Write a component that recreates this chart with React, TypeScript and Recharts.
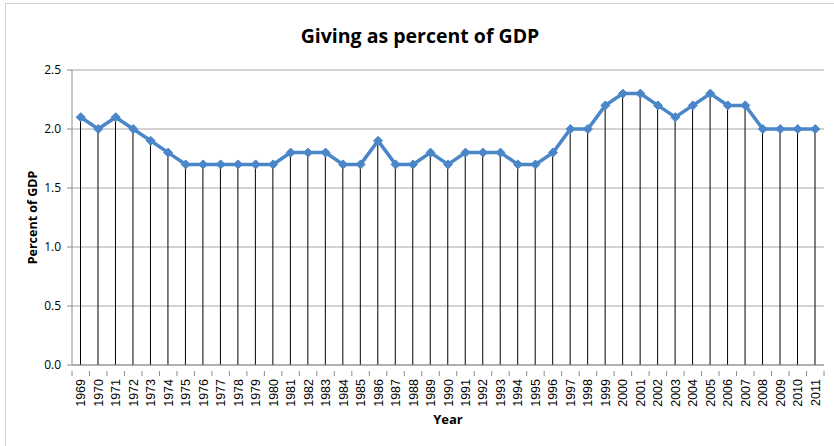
import React from 'react'
import { ComposedChart, Bar, Line, XAxis, YAxis, CartesianGrid } from 'recharts'

const years = [
  '1969', '1970', '1971', '1972', '1973', '1974', '1975', '1976', '1977', '1978',
  '1979', '1980', '1981', '1982', '1983', '1984', '1985', '1986', '1987', '1988',
  '1989', '1990', '1991', '1992', '1993', '1994', '1995', '1996', '1997', '1998',
  '1999', '2000', '2001', '2002', '2003', '2004', '2005', '2006', '2007', '2008',
  '2009', '2010', '2011',
]

const givingPct = [
  2.1, 2.0, 2.1, 2.0, 1.9, 1.8, 1.7, 1.7, 1.7, 1.7,
  1.7, 1.7, 1.8, 1.8, 1.8, 1.7, 1.7, 1.9, 1.7, 1.7,
  1.8, 1.7, 1.8, 1.8, 1.8, 1.7, 1.7, 1.8, 2.0, 2.0,
  2.2, 2.3, 2.3, 2.2, 2.1, 2.2, 2.3, 2.2, 2.2, 2.0,
  2.0, 2.0, 2.0,
]

const yTicks = [0, 0.5, 1.0, 1.5, 2.0, 2.5]

const data = years.map((year, i) => ({ year, value: givingPct[i] }))

const WIDTH = 834
const HEIGHT = 446
const PLOT_LEFT = 72
const PLOT_RIGHT = 10
const BAND = (WIDTH - PLOT_LEFT - PLOT_RIGHT) / years.length

const LINE_BLUE = '#4a86c8'
const AXIS_GRAY = '#8c8c8c'
const NARROW_BOLD = "'Liberation Sans Narrow', 'Open Sans', sans-serif"

// thin black drop line from each point down to the category axis
const DropLine = (props: any) => {
  const { x, y, width, height } = props
  const cx = x + width / 2
  return <line x1={cx} y1={y} x2={cx} y2={y + height} stroke="#000" strokeWidth={1} />
}

const Diamond = (props: any) => {
  const { cx, cy, index } = props
  const r = 4.5
  return (
    <path
      key={`d-${index}`}
      d={`M${cx},${cy - r}L${cx + r},${cy}L${cx},${cy + r}L${cx - r},${cy}Z`}
      fill={LINE_BLUE}
      stroke={LINE_BLUE}
      strokeWidth={1}
    />
  )
}

// rotated year label plus Excel-style tick marks between categories
const YearTick = (props: any) => {
  const { x, y, payload, index } = props
  const left = x - BAND / 2
  const right = x + BAND / 2
  return (
    <g>
      <line x1={left} y1={y - 2} x2={left} y2={y + 3} stroke={AXIS_GRAY} />
      {index === years.length - 1 && (
        <line x1={right} y1={y - 2} x2={right} y2={y + 3} stroke={AXIS_GRAY} />
      )}
      <text
        x={0}
        y={0}
        transform={`translate(${x + 4.5},${y + 6}) rotate(-90)`}
        textAnchor="end"
        fontSize={12.5}
        fontFamily="Liberation Sans, Arial, sans-serif"
        fill="#000"
      >
        {payload.value}
      </text>
    </g>
  )
}

export default function App() {
  return (
    <div
      style={{
        position: 'absolute',
        left: 0,
        top: 0,
        width: WIDTH,
        height: HEIGHT,
        overflow: 'hidden',
        background: '#fff',
      }}
    >
      <div
        style={{
          position: 'absolute',
          left: 5,
          top: 3,
          width: WIDTH + 20,
          height: HEIGHT + 20,
          border: '1px solid #d0d0d0',
        }}
      />
      <div
        style={{
          position: 'absolute',
          left: 0,
          width: 840,
          top: 22,
          textAlign: 'center',
          fontFamily: 'Open Sans, sans-serif',
          fontWeight: 700,
          fontSize: 19.5,
          color: '#000',
        }}
      >
        Giving as percent of GDP
      </div>
      <ComposedChart
        width={WIDTH}
        height={HEIGHT}
        data={data}
        margin={{ top: 70, right: PLOT_RIGHT, left: 0, bottom: 0 }}
        barCategoryGap={0}
        style={{ position: 'absolute', left: 0, top: 0 }}
      >
        <CartesianGrid vertical={false} stroke="#a6a6a6" strokeWidth={1} />
        <XAxis
          dataKey="year"
          interval={0}
          height={81}
          tickLine={false}
          axisLine={{ stroke: AXIS_GRAY }}
          tick={<YearTick />}
          label={{
            value: 'Year',
            position: 'insideBottom',
            offset: 22,
            style: { fontSize: 13, fontWeight: 700, fontFamily: NARROW_BOLD, fill: '#000' },
          }}
        />
        <YAxis
          width={PLOT_LEFT}
          domain={[0, 2.5]}
          ticks={yTicks}
          tickFormatter={(v: number) => v.toFixed(1)}
          tickLine={{ stroke: AXIS_GRAY }}
          tickSize={5}
          tickMargin={6}
          axisLine={{ stroke: AXIS_GRAY }}
          tick={{ fontSize: 12, fill: '#000', fontFamily: 'Open Sans, sans-serif' }}
          label={{
            value: 'Percent of GDP',
            angle: -90,
            position: 'insideLeft',
            offset: 33,
            style: { textAnchor: 'middle', fontSize: 12.5, fontWeight: 700, fontFamily: 'Open Sans, sans-serif', fill: '#000' },
          }}
        />
        <Bar dataKey="value" shape={<DropLine />} isAnimationActive={false} />
        <Line
          type="linear"
          dataKey="value"
          stroke={LINE_BLUE}
          strokeWidth={3.5}
          dot={<Diamond />}
          activeDot={false}
          isAnimationActive={false}
        />
      </ComposedChart>
    </div>
  )
}
